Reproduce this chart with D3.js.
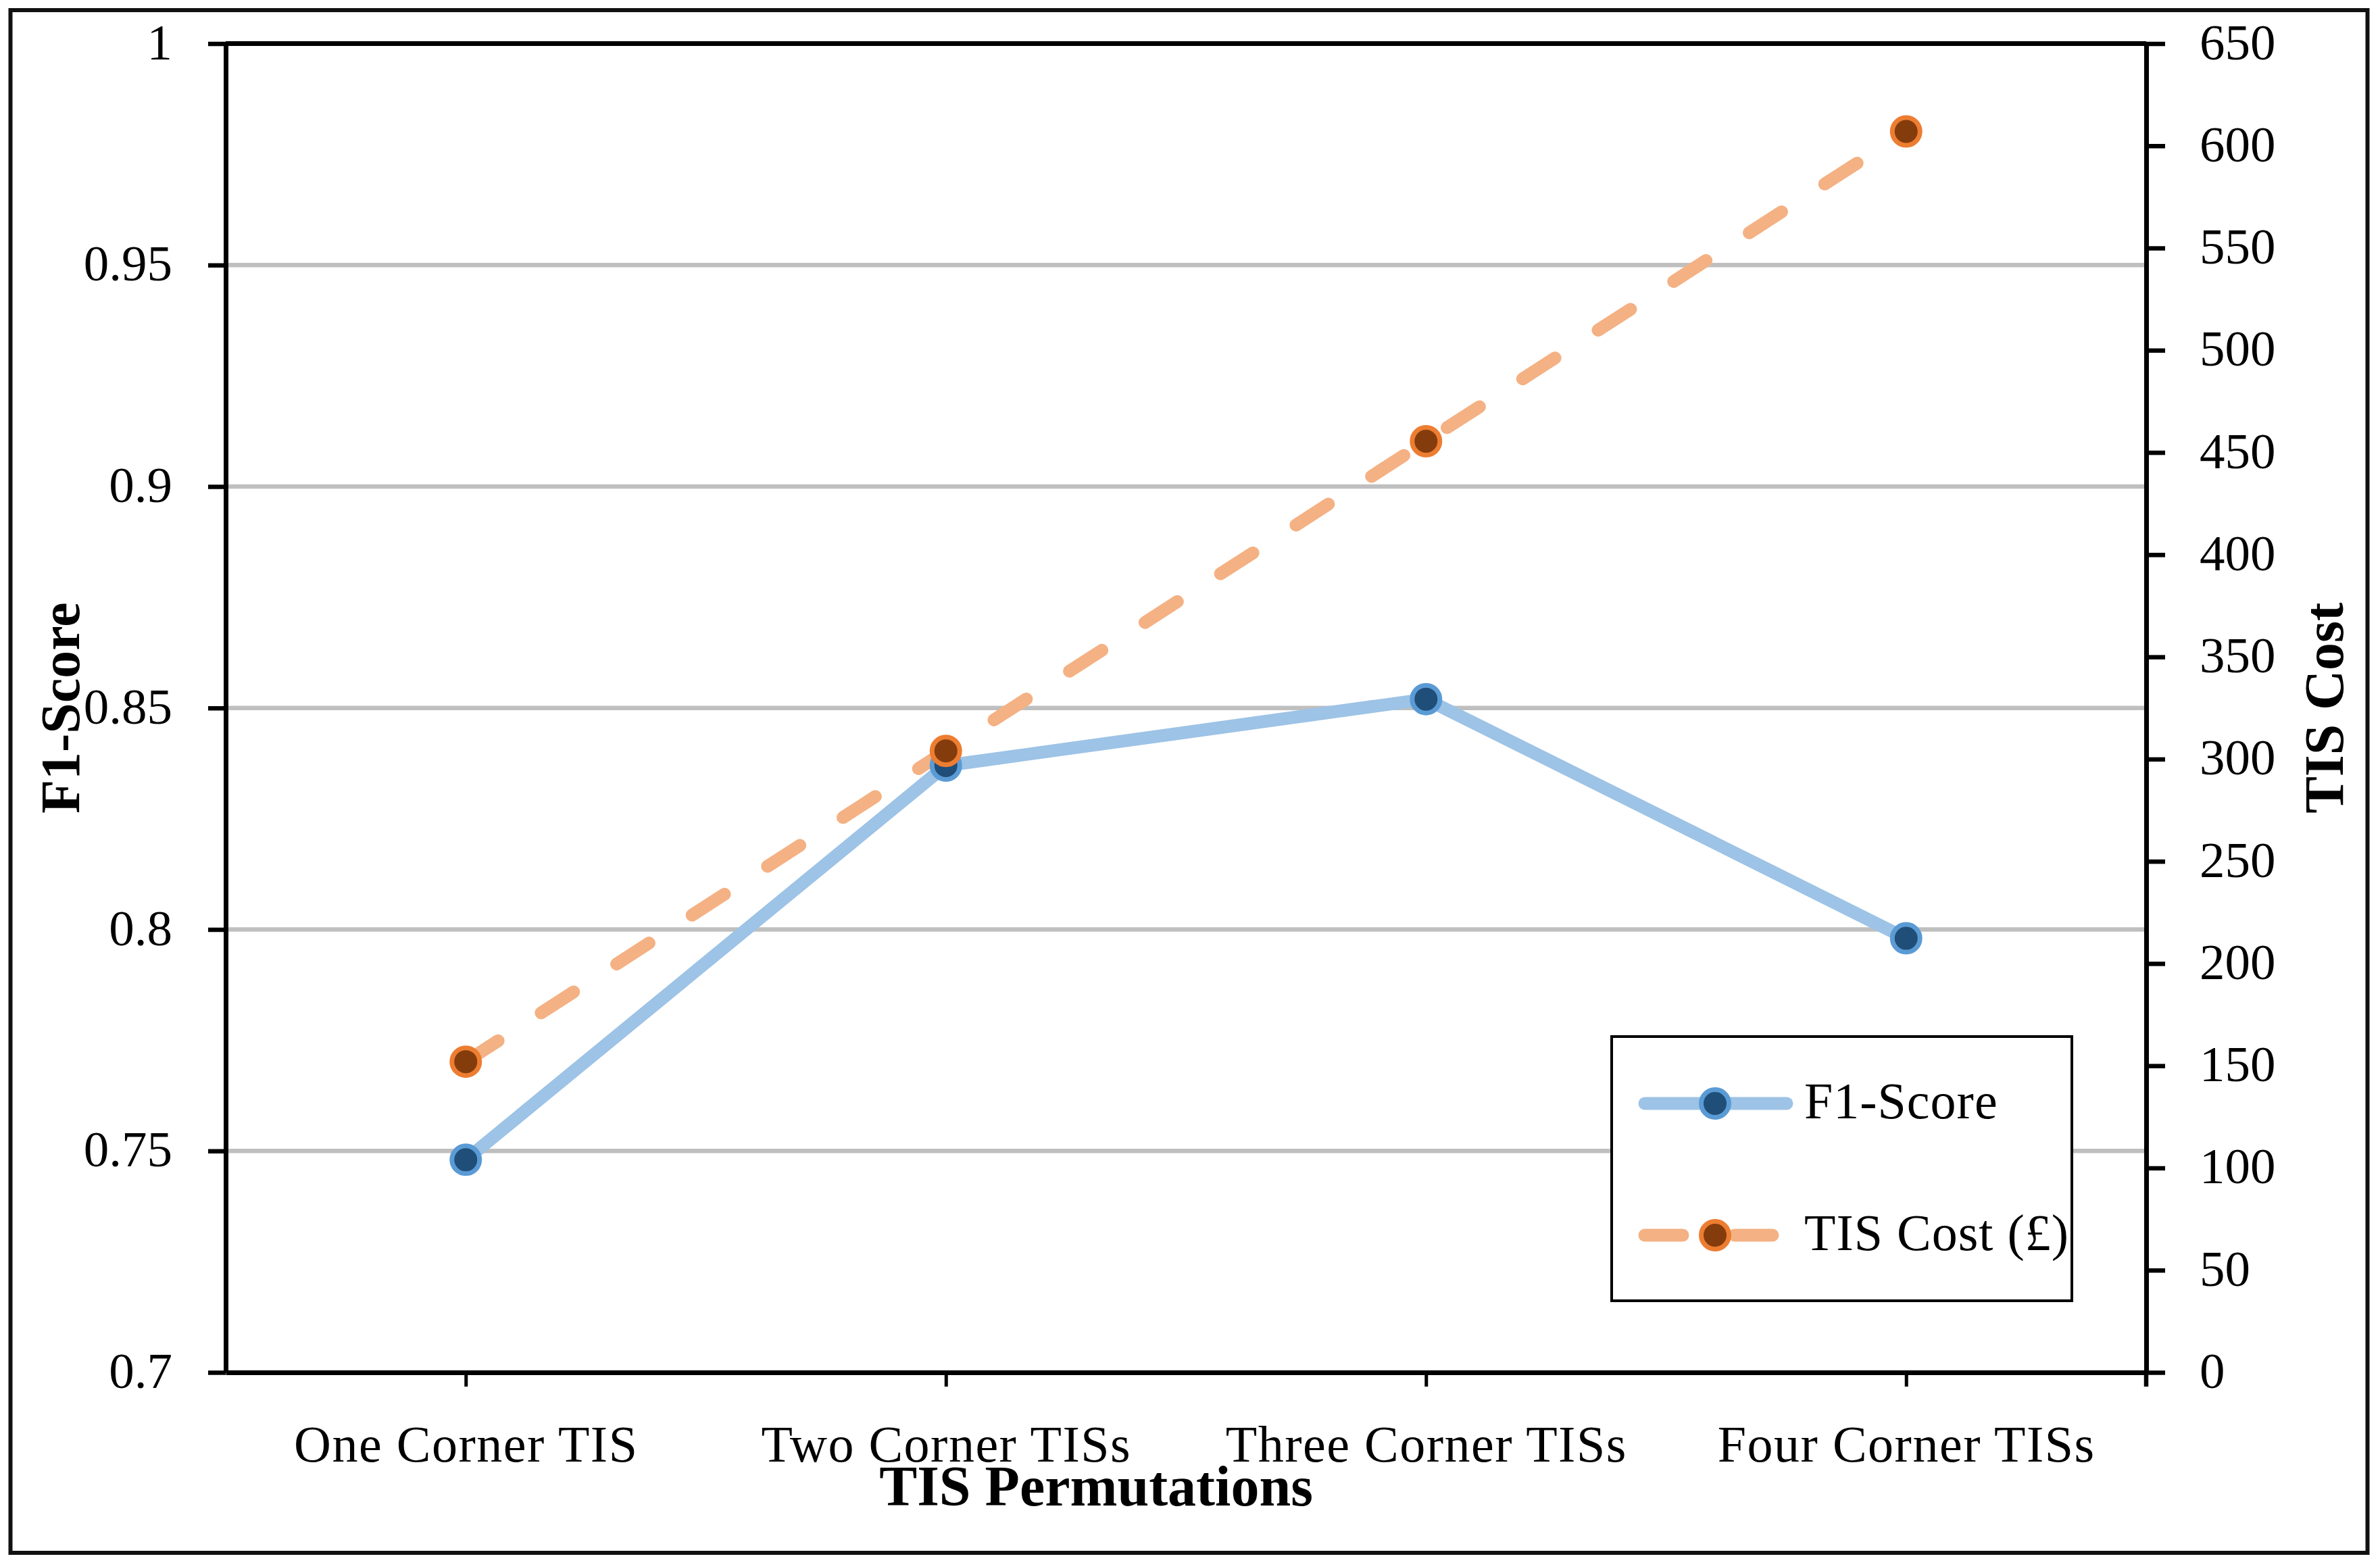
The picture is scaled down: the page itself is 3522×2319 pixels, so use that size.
<!DOCTYPE html>
<html>
<head>
<meta charset="utf-8">
<script src="https://cdn.jsdelivr.net/npm/d3@7"></script>
<style>
  html, body { margin: 0; padding: 0; background: #fff; }
  svg { display: block; }
  text { font-family: "Palatino Linotype", "Book Antiqua", Palatino, "Liberation Serif", serif; fill: #000; }
</style>
</head>
<body>
<svg id="chart" width="3522" height="2319"></svg>
<script>
// ---- data ----
const categories = ["One Corner TIS", "Two Corner TISs", "Three Corner TISs", "Four Corner TISs"];
const f1Score = [0.748, 0.837, 0.852, 0.798];
const tisCost = [152, 304, 455.5, 607];
const leftTicks = [0.7, 0.75, 0.8, 0.85, 0.9, 0.95, 1];
const leftTickLabels = ["0.7", "0.75", "0.8", "0.85", "0.9", "0.95", "1"];
const rightTicks = [0, 50, 100, 150, 200, 250, 300, 350, 400, 450, 500, 550, 600, 650];
const seriesNames = ["F1-Score", "TIS Cost (£)"];

// ---- layout ----
const W = 3522, H = 2319;
const plot = { left: 334, right: 3176, top: 64.5, bottom: 2031 };
const svg = d3.select("#chart");

svg.append("rect").attr("x", 0).attr("y", 0).attr("width", W).attr("height", H).attr("fill", "#fff");
// outer border
svg.append("rect").attr("x", 15.5).attr("y", 15).attr("width", 3503.5 - 15.5).attr("height", 2298 - 15)
  .attr("fill", "none").attr("stroke", "#111").attr("stroke-width", 6);

const x = d3.scalePoint().domain(categories).range([plot.left, plot.right]).padding(0.5);
const yL = d3.scaleLinear().domain([0.7, 1]).range([plot.bottom, plot.top]);
const yR = d3.scaleLinear().domain([0, 650]).range([plot.bottom, plot.top]);

// gridlines
svg.append("g").selectAll("line").data(leftTicks.filter(v => v > 0.7 && v < 1)).join("line")
  .attr("x1", plot.left).attr("x2", plot.right)
  .attr("y1", d => yL(d)).attr("y2", d => yL(d))
  .attr("stroke", "#BFBFBF").attr("stroke-width", 6.5);

// top border line (black)
svg.append("line").attr("x1", plot.left).attr("x2", plot.right)
  .attr("y1", yL(1)).attr("y2", yL(1)).attr("stroke", "#000").attr("stroke-width", 7);

const labelFont = 75;

// left axis
const gL = svg.append("g").attr("transform", `translate(${plot.left},0)`)
  .call(d3.axisLeft(yL).tickValues(leftTicks).tickFormat((d, i) => leftTickLabels[i]).tickSize(26).tickSizeOuter(0).tickPadding(53));
gL.select(".domain").attr("stroke", "#000").attr("stroke-width", 7);
gL.selectAll(".tick line").attr("stroke", "#000").attr("stroke-width", 6.5);
gL.selectAll(".tick text").attr("font-size", labelFont).attr("font-family", null).attr("dy", "0.3em");

// right axis
const gR = svg.append("g").attr("transform", `translate(${plot.right},0)`)
  .call(d3.axisRight(yR).tickValues(rightTicks).tickSize(28).tickSizeOuter(0).tickPadding(51));
gR.select(".domain").attr("stroke", "#000").attr("stroke-width", 7);
gR.selectAll(".tick line").attr("stroke", "#000").attr("stroke-width", 6.5);
gR.selectAll(".tick text").attr("font-size", labelFont).attr("font-family", null).attr("dy", "0.3em");
// right axis extension below the x axis
svg.append("line").attr("x1", plot.right).attr("x2", plot.right).attr("y1", plot.bottom).attr("y2", plot.bottom + 21)
  .attr("stroke", "#000").attr("stroke-width", 6.5);

// bottom axis
const gB = svg.append("g").attr("transform", `translate(0,${plot.bottom})`)
  .call(d3.axisBottom(x).tickSize(21).tickSizeOuter(0).tickPadding(57));
gB.select(".domain").attr("stroke", "#000").attr("stroke-width", 7);
gB.selectAll(".tick line").attr("stroke", "#000").attr("stroke-width", 5);
gB.selectAll(".tick text").attr("font-size", 76).attr("font-family", null).attr("letter-spacing", 1.5).attr("dy", "0.71em");

// axis titles
svg.append("text").attr("transform", `translate(117,${(plot.top + plot.bottom) / 2}) rotate(-90)`)
  .attr("text-anchor", "middle").attr("font-size", 82).attr("font-weight", "bold").text("F1-Score");
svg.append("text").attr("transform", `translate(3467,${(plot.top + plot.bottom) / 2}) rotate(-90)`)
  .attr("text-anchor", "middle").attr("font-size", 82).attr("font-weight", "bold").text("TIS Cost");
svg.append("text").attr("x", 1622).attr("y", 2228)
  .attr("text-anchor", "middle").attr("font-size", 84).attr("font-weight", "bold").text("TIS Permutations");

// series
const lineW = 19;
const dash = "57,76";
const f1Data = categories.map((c, i) => ({ c, v: f1Score[i] }));
const costData = categories.map((c, i) => ({ c, v: tisCost[i] }));

svg.append("path").datum(costData)
  .attr("d", d3.line().x(d => x(d.c)).y(d => yR(d.v)))
  .attr("fill", "none").attr("stroke", "#F4B183").attr("stroke-width", lineW)
  .attr("stroke-linecap", "round").attr("stroke-linejoin", "round").attr("stroke-dasharray", dash);

svg.append("path").datum(f1Data)
  .attr("d", d3.line().x(d => x(d.c)).y(d => yL(d.v)))
  .attr("fill", "none").attr("stroke", "#9DC3E6").attr("stroke-width", lineW)
  .attr("stroke-linecap", "round").attr("stroke-linejoin", "round");

svg.append("g").selectAll("circle").data(f1Data).join("circle")
  .attr("cx", d => x(d.c)).attr("cy", d => yL(d.v)).attr("r", 20.5)
  .attr("fill", "#1F4E79").attr("stroke", "#5B9BD5").attr("stroke-width", 7);

svg.append("g").selectAll("circle").data(costData).join("circle")
  .attr("cx", d => x(d.c)).attr("cy", d => yR(d.v)).attr("r", 20.5)
  .attr("fill", "#843C0C").attr("stroke", "#ED7D31").attr("stroke-width", 7);

// legend
const lg = svg.append("g");
lg.append("rect").attr("x", 2385).attr("y", 1534).attr("width", 3066 - 2385).attr("height", 1925 - 1534)
  .attr("fill", "#fff").attr("stroke", "#000").attr("stroke-width", 4);
const legendRows = [
  { name: seriesNames[0], y: 1633, line: "#9DC3E6", fill: "#1F4E79", stroke: "#5B9BD5", dash: null, x1: 2434, x2: 2644 },
  { name: seriesNames[1], y: 1828, line: "#F4B183", fill: "#843C0C", stroke: "#ED7D31", dash: "56,77", x1: 2434, x2: 2624 }
];
legendRows.forEach(r => {
  lg.append("line").attr("x1", r.x1).attr("x2", r.x2).attr("y1", r.y).attr("y2", r.y)
    .attr("stroke", r.line).attr("stroke-width", lineW).attr("stroke-linecap", "round")
    .attr("stroke-dasharray", r.dash);
  lg.append("circle").attr("cx", 2538).attr("cy", r.y).attr("r", 20.5)
    .attr("fill", r.fill).attr("stroke", r.stroke).attr("stroke-width", 7);
  lg.append("text").attr("x", 2670).attr("y", r.y + 22).attr("font-size", 76).attr("letter-spacing", 1).text(r.name);
});
</script>
</body>
</html>
